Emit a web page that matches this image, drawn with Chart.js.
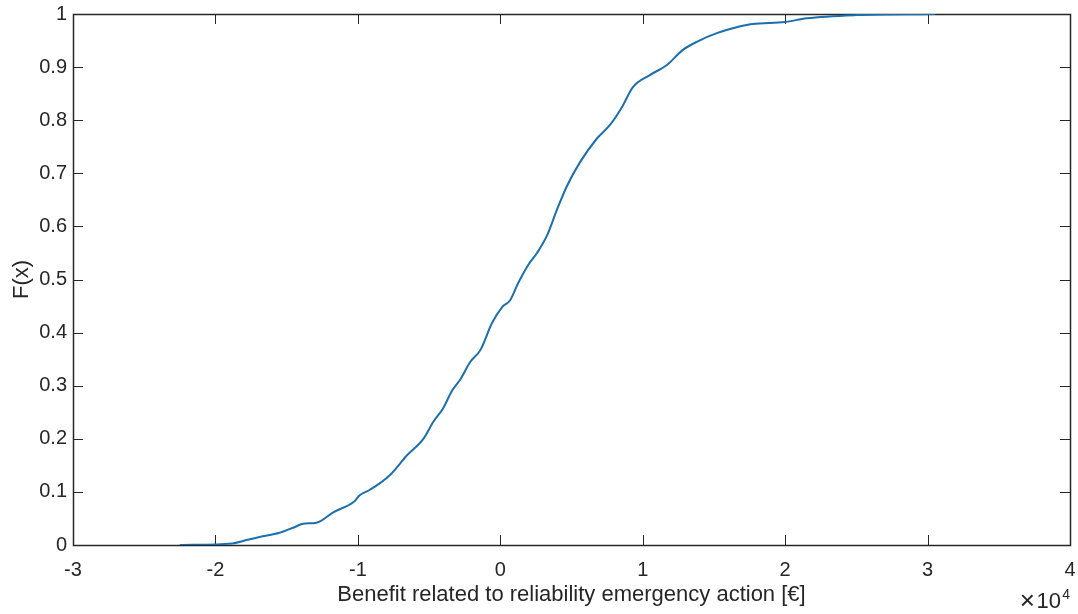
<!DOCTYPE html>
<html>
<head>
<meta charset="utf-8">
<script src="https://cdn.jsdelivr.net/npm/chart.js@4.4.1/dist/chart.umd.min.js"></script>
<style>
    html, body { margin: 0; padding: 0; background: #ffffff; }
    #box { width: 1078px; height: 614px; }
</style>
</head>
<body>
<div id="box"><canvas id="myChart"></canvas></div>
<script>
var beneficio = [-2.25, -1.88, -1.80, -1.69, -1.55, -1.45, -1.385, -1.29, -1.17, -1.03,
    -0.985, -0.915, -0.774, -0.655, -0.54, -0.47, -0.40, -0.34, -0.28, -0.21,
    -0.14, -0.058, 0.013, 0.069, 0.125, 0.195, 0.258, 0.33, 0.40, 0.47,
    0.56, 0.68, 0.77, 0.855, 0.93, 1.05, 1.17, 1.28, 1.39, 1.52,
    1.66, 1.77, 2.0, 2.15, 2.5, 3.05];
var probAcum = [0, 0.003, 0.008, 0.015, 0.023, 0.033, 0.040, 0.042, 0.062, 0.081,
    0.094, 0.104, 0.132, 0.169, 0.200, 0.232, 0.258, 0.290, 0.312, 0.345,
    0.367, 0.418, 0.448, 0.461, 0.493, 0.527, 0.550, 0.584, 0.633, 0.677,
    0.721, 0.766, 0.791, 0.825, 0.862, 0.885, 0.904, 0.932, 0.949, 0.964,
    0.975, 0.981, 0.985, 0.992, 0.998, 1.0];

var xTicks = [-3, -2, -1, 0, 1, 2, 3, 4];
var yTicks = [0, 0.1, 0.2, 0.3, 0.4, 0.5, 0.6, 0.7, 0.8, 0.9, 1];

var corEixo = '#262626';
var fonte = 'Arial, "Liberation Sans", Helvetica, sans-serif';

// box around the axes plus inward ticks on all four sides (matlab look)
var caixaPlugin = {
    id: 'caixa',
    beforeDatasetsDraw: function(chart) {
        var ctx = chart.ctx;
        var a = chart.chartArea;
        var sx = chart.scales.x;
        var sy = chart.scales.y;
        var tam = 10;
        ctx.save();
        ctx.strokeStyle = corEixo;
        ctx.lineWidth = 1;
        ctx.beginPath();
        xTicks.forEach(function(v) {
            var px = Math.round(sx.getPixelForValue(v)) + 0.5;
            ctx.moveTo(px, a.bottom);
            ctx.lineTo(px, a.bottom - tam);
            ctx.moveTo(px, a.top);
            ctx.lineTo(px, a.top + tam);
        });
        yTicks.forEach(function(v) {
            var py = Math.round(sy.getPixelForValue(v)) + 0.5;
            ctx.moveTo(a.left, py);
            ctx.lineTo(a.left + tam, py);
            ctx.moveTo(a.right, py);
            ctx.lineTo(a.right - tam, py);
        });
        ctx.stroke();
        ctx.lineWidth = 1.5;
        ctx.strokeRect(Math.round(a.left) + 0.5, Math.round(a.top) + 0.5,
            Math.round(a.right - a.left), Math.round(a.bottom - a.top));
        ctx.restore();
    },
    afterDraw: function(chart) {
        var ctx = chart.ctx;
        var a = chart.chartArea;
        ctx.save();
        ctx.fillStyle = corEixo;
        ctx.textBaseline = 'alphabetic';
        ctx.textAlign = 'right';
        ctx.font = '14px ' + fonte;
        ctx.fillText('4', a.right, 599);
        ctx.font = '22px ' + fonte;
        ctx.fillText('10', a.right - 9, 608);
        ctx.font = '26px ' + fonte;
        ctx.fillText('\u00d7', a.right - 35, 609);
        ctx.restore();
    }
};

function graficoDistribuicao () {
    var ctx = document.getElementById('myChart');

    var pontos = beneficio.map(function(v, i) {
        return { x: v, y: probAcum[i] };
    });

    new Chart(ctx, {
        type: 'line',
        data: {
            datasets: [{
                label: 'F(x)',
                data: pontos,
                borderColor: '#1a6fae',
                borderWidth: 2,
                pointRadius: 0,
                cubicInterpolationMode: 'monotone',
                fill: false
            }]
        },
        options: {
            responsive: true,
            maintainAspectRatio: false,
            animation: false,
            layout: {
                padding: { top: 14, right: 8, left: 0, bottom: 0 }
            },
            plugins: {
                legend: { display: false },
                tooltip: { enabled: false }
            },
            scales: {
                x: {
                    type: 'linear',
                    min: -3,
                    max: 4,
                    afterFit: function(s) {
                        s.height = 69;
                        s.paddingLeft = 0;
                        s.paddingRight = 0;
                    },
                    afterBuildTicks: function(s) {
                        s.ticks = xTicks.map(function(v) { return { value: v }; });
                    },
                    grid: { display: false, drawTicks: false },
                    border: { display: false },
                    ticks: {
                        color: corEixo,
                        padding: 13,
                        maxRotation: 0,
                        font: { family: fonte, size: 20 }
                    },
                    title: {
                        display: true,
                        text: 'Benefit related to reliability emergency action [\u20ac]',
                        color: corEixo,
                        font: { family: fonte, size: 22 },
                        padding: { top: 0, bottom: 6 }
                    }
                },
                y: {
                    type: 'linear',
                    min: 0,
                    max: 1,
                    afterFit: function(s) {
                        s.width = 73;
                        s.paddingTop = 0;
                        s.paddingBottom = 0;
                    },
                    afterBuildTicks: function(s) {
                        s.ticks = yTicks.map(function(v) { return { value: v }; });
                    },
                    grid: { display: false, drawTicks: false },
                    border: { display: false },
                    ticks: {
                        color: corEixo,
                        padding: 6,
                        font: { family: fonte, size: 20 },
                        callback: function(v) { return String(Math.round(v * 10) / 10); }
                    },
                    title: {
                        display: true,
                        text: 'F(x)',
                        color: corEixo,
                        font: { family: fonte, size: 22 },
                        padding: { top: 9, bottom: 0 }
                    }
                }
            }
        },
        plugins: [caixaPlugin]
    });
}

graficoDistribuicao();
</script>
</body>
</html>
